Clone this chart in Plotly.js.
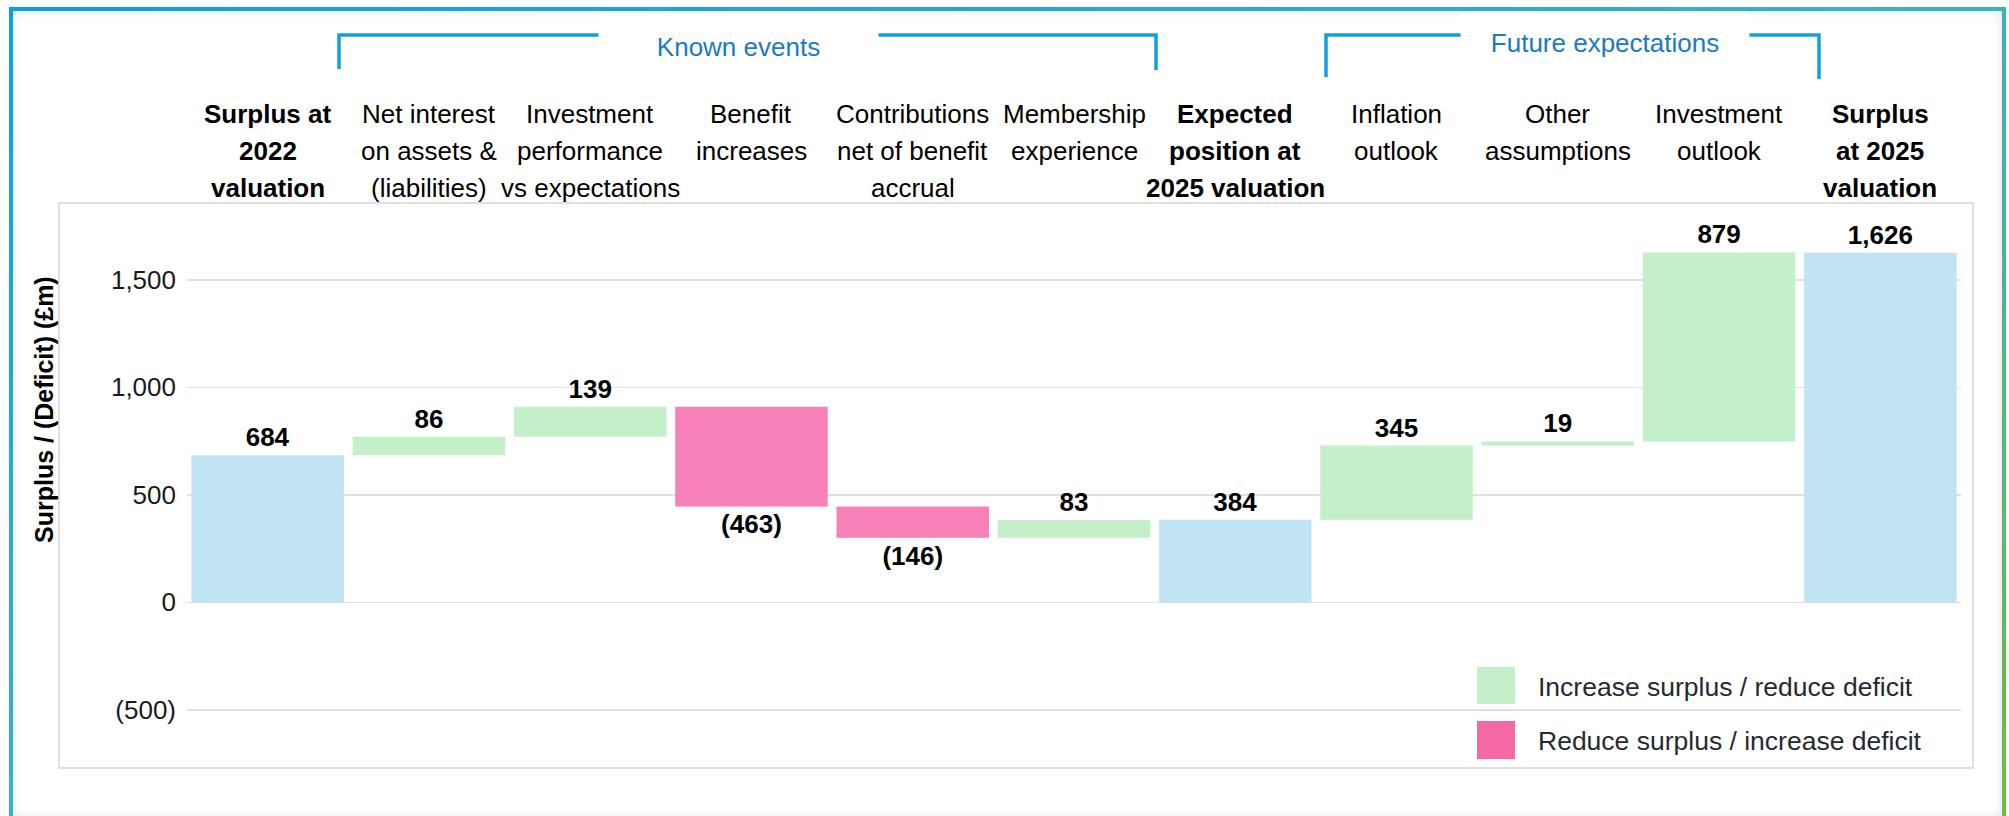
<!DOCTYPE html>
<html><head><meta charset="utf-8">
<script src="https://cdn.plot.ly/plotly-3.0.1.min.js"></script>
<style>
html,body{margin:0;padding:0;background:#fff;width:2009px;height:816px;overflow:hidden;}
#frame{position:absolute;left:9px;top:7px;width:1989px;height:807px;border:4px solid #1aa3dd;border-image:linear-gradient(to bottom right,#0aa1e4 0%,#38b3c0 50%,#6dbf3a 100%) 1;box-shadow:inset 0 0 10px rgba(0,0,0,0.13);}
#chart{position:absolute;left:0;top:0;width:2009px;height:816px;}
</style></head><body>
<div id="frame"></div>
<div id="chart"></div>
<script>
// ---- data ----
const categories = [
  "Surplus at<br>2022<br>valuation",
  "Net interest<br>on assets &<br>(liabilities)",
  "Investment<br>performance<br>vs expectations",
  "Benefit<br>increases",
  "Contributions<br>net of benefit<br>accrual",
  "Membership<br>experience",
  "Expected<br>position at<br>2025 valuation",
  "Inflation<br>outlook",
  "Other<br>assumptions",
  "Investment<br>outlook",
  "Surplus<br>at 2025<br>valuation"
];
const measures = ["absolute","relative","relative","relative","relative","relative","absolute","relative","relative","relative","absolute"];
const values = [684, 86, 139, -463, -146, 83, 384, 345, 19, 879, 1626];
const boldCategory = [true,false,false,false,false,false,true,false,false,false,true];
const yTickValues = [-500, 0, 500, 1000, 1500];
const legendLabels = ["Increase surplus / reduce deficit", "Reduce surplus / increase deficit"];
const groupLabels = ["Known events", "Future expectations"];
const yTitle = "Surplus / (Deficit) (£m)";

// ---- helpers ----
function fmt(v){
  const s = String(Math.abs(v)).replace(/\B(?=(\d{3})+(?!\d))/g, ",");
  return v < 0 ? "(" + s + ")" : s;
}
const L = 187, T = 203, W = 1774, H = 565;
const px = x => (x - L) / W;
const py = y => (T + H - y) / H;

const FONT = "Liberation Sans, Arial, sans-serif";
const GREEN = "#c3f0c8", PINK = "#f780b8", BLUE = "#c1e4f4";
const LEG_PINK = "#f468a6";
const BRACKET = "#10a0dc", BRACKET_TXT = "#1a7bbf";

const trace = {
  type: "waterfall",
  x: categories,
  y: values,
  measure: measures,
  text: values.map(fmt),
  textposition: "outside",
  textfont: {family: FONT, size: 26, color: "#000", weight: "bold"},
  cliponaxis: false,
  constraintext: "none",
  increasing: {marker: {color: GREEN}},
  decreasing: {marker: {color: PINK}},
  totals: {marker: {color: BLUE}},
  connector: {visible: false},
  hoverinfo: "skip",
  showlegend: false
};

const annotations = [];
// category labels (top, multi-line)
categories.forEach((c, i) => {
  c.split("<br>").forEach((line, j) => {
    annotations.push({
      xref: "x", yref: "paper", x: c, y: py(114.5 + j * 36.5),
      text: boldCategory[i] ? "<b>" + line + "</b>" : line,
      showarrow: false, xanchor: "center", yanchor: "middle",
      font: {family: FONT, size: 26, color: "#000"}
    });
  });
});
// group labels
annotations.push({xref:"paper", yref:"paper", x: px(738.5), y: py(47), text: groupLabels[0],
  showarrow:false, xanchor:"center", yanchor:"middle", width:279, height:68, bgcolor:"#ffffff", borderpad:0,
  font:{family:FONT, size:26, color:BRACKET_TXT}});
annotations.push({xref:"paper", yref:"paper", x: px(1605), y: py(43), text: groupLabels[1],
  showarrow:false, xanchor:"center", yanchor:"middle", width:288, height:60, bgcolor:"#ffffff", borderpad:0,
  font:{family:FONT, size:26, color:BRACKET_TXT}});
// y title
annotations.push({xref:"paper", yref:"paper", x: px(44), y: py(410), text: "<b>" + yTitle + "</b>",
  textangle: -90, showarrow:false, xanchor:"center", yanchor:"middle",
  font:{family:FONT, size:25, color:"#000"}});
// legend texts
annotations.push({xref:"paper", yref:"paper", x: px(1536), y: py(687), text: legendLabels[0],
  showarrow:false, xanchor:"left", yanchor:"middle", font:{family:FONT, size:26.5, color:"#262a30"}});
annotations.push({xref:"paper", yref:"paper", x: px(1536), y: py(741), text: legendLabels[1],
  showarrow:false, xanchor:"left", yanchor:"middle", font:{family:FONT, size:26.5, color:"#262a30"}});

const shapes = [
  // outer plot box
  {type:"rect", xref:"paper", yref:"paper", x0: px(59), x1: px(1973), y0: 0, y1: 1,
   line:{color:"#d6d6d6", width:1.5}, layer:"below"},
  // legend swatches
  {type:"rect", xref:"paper", yref:"paper", x0: px(1477), x1: px(1515), y0: py(704), y1: py(667),
   fillcolor: GREEN, line:{width:0}},
  {type:"rect", xref:"paper", yref:"paper", x0: px(1477), x1: px(1515), y0: py(759), y1: py(721),
   fillcolor: LEG_PINK, line:{width:0}},
  // brackets
  {type:"path", xref:"paper", yref:"paper",
   path: `M ${px(339)},${py(69)} L ${px(339)},${py(35)} L ${px(1156)},${py(35)} L ${px(1156)},${py(70)}`,
   line:{color:BRACKET, width:3.5}},
  {type:"path", xref:"paper", yref:"paper",
   path: `M ${px(1326)},${py(77)} L ${px(1326)},${py(35)} L ${px(1819)},${py(35)} L ${px(1819)},${py(79)}`,
   line:{color:BRACKET, width:3.5}}
];

const layout = {
  width: 2009, height: 816,
  margin: {l: L, r: 2009 - L - W, t: T, b: 816 - T - H},
  paper_bgcolor: "rgba(0,0,0,0)",
  plot_bgcolor: "rgba(0,0,0,0)",
  waterfallgap: 0.0545,
  showlegend: false,
  xaxis: {type:"category", range:[-0.5, 10.5], showticklabels:false, showgrid:false, zeroline:false, showline:false, fixedrange:true},
  yaxis: {range:[-770.7, 1857.2], tickvals: yTickValues, ticktext: yTickValues.map(fmt),
          showgrid:true, gridcolor:"#e0e0e0", gridwidth:1.5, zeroline:false, showline:false,
          ticks:"", ticklabelstandoff: 10, tickfont:{family:FONT, size:26, color:"#1a1a1a"}, fixedrange:true},
  annotations: annotations,
  shapes: shapes,
  font: {family: FONT}
};

Plotly.newPlot("chart", [trace], layout, {displayModeBar:false, staticPlot:true});
</script></body></html>
